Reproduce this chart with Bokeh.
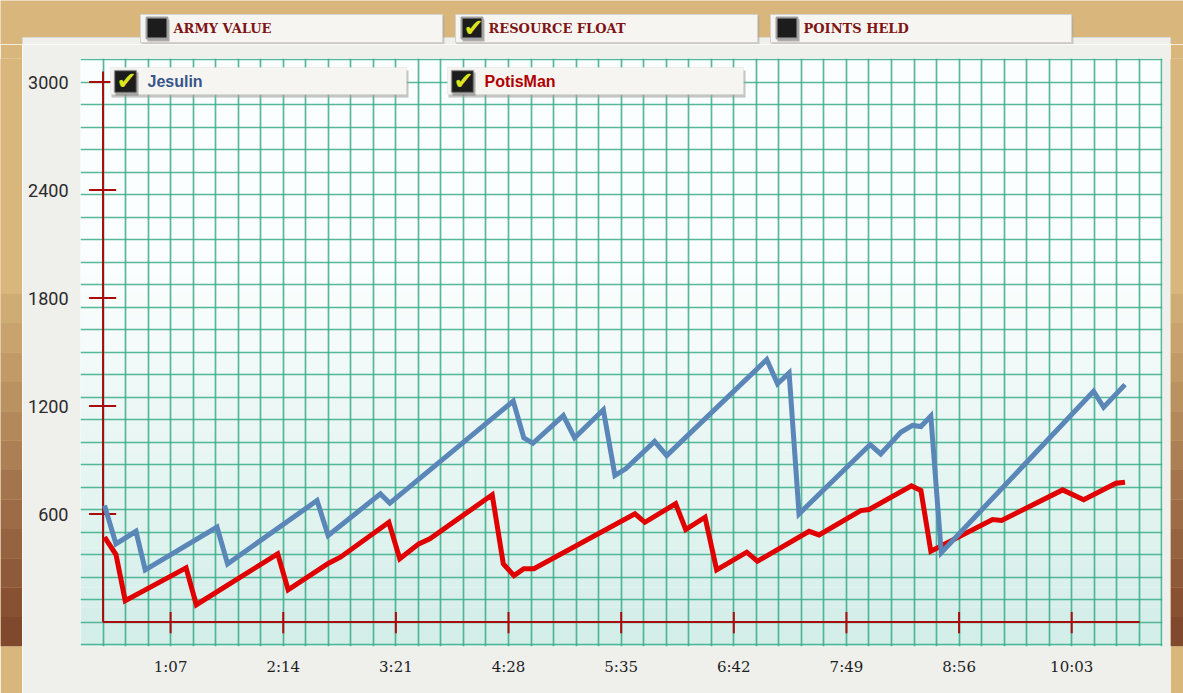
from bokeh.plotting import figure
from bokeh.layouts import column, row
from bokeh.models import (FixedTicker, SingleIntervalTicker, BoxAnnotation, Label, Range1d)
from bokeh.embed import file_html
from bokeh.resources import INLINE

# ---------------- data ----------------
series_names = ["Jesulin", "PotisMan"]

jesulin_t = [27.7, 34.5, 46.4, 51.9, 94.6, 100.9, 154.1, 160.7, 191.8, 197.4,
             270.8, 277.1, 282.5, 300.6, 307.3, 324.4, 331.3, 337.7, 354.9, 362.1,
             421.6, 428.0, 434.9, 440.8, 483.1, 489.4, 501.3, 508.3, 513.3, 519.2,
             525.4, 616.0, 622.0, 634.7]
jesulin_v = [647, 434, 504, 290, 527, 323, 675, 481, 712, 660,
             1227, 1023, 993, 1147, 1023, 1179, 814, 851, 1003, 925,
             1458, 1323, 1384, 601, 986, 934, 1054, 1092, 1086, 1144,
             385, 1282, 1193, 1319]

potisman_t = [27.7, 34.5, 40.0, 76.2, 82.3, 130.7, 136.9, 161.0, 168.0, 196.8,
              203.3, 214.6, 221.2, 258.3, 264.9, 271.2, 277.1, 283.1, 343.2, 349.1,
              367.4, 373.4, 384.9, 391.8, 409.7, 416.1, 446.8, 452.7, 477.5, 482.5,
              507.7, 513.3, 519.2, 555.9, 561.3, 597.6, 610.1, 629.3, 634.7]
potisman_v = [471, 375, 119, 301, 96, 379, 179, 327, 360, 554,
              351, 434, 462, 707, 323, 258, 296, 296, 601, 554,
              657, 514, 582, 290, 388, 338, 504, 484, 619, 625,
              756, 731, 393, 569, 564, 734, 679, 771, 777]

x_tick_seconds = [67, 134, 201, 268, 335, 402, 469, 536, 603]
x_tick_labels = ["1:07", "2:14", "3:21", "4:28", "5:35", "6:42", "7:49", "8:56", "10:03"]
y_ticks = [600, 1200, 1800, 2400, 3000]

toggle_labels = ["ARMY VALUE", "RESOURCE FLOAT", "POINTS HELD"]
toggle_checked = [False, True, False]

axis_start = 26.8
axis_end = 643.4
axis_top = 3058

# ---------------- colours ----------------
BLUE = "#5A86B8"
RED = "#E00000"
AXRED = "#A80C0C"
TAN = "#D8B67C"
PAPER = "#EFEFEC"
BAR = "#F6F5F2"
CHECK = "#DCE51E"

TOP_H = 44
FULL_W = 1183
LEFT_W, RIGHT_W = 22, 13
MAIN_W = FULL_W - LEFT_W - RIGHT_W
MAIN_H = 693 - TOP_H

# ---------------- top strip with the toggles ----------------
top = figure(width=FULL_W, height=TOP_H, x_range=Range1d(0, FULL_W), y_range=Range1d(TOP_H, 0),
             output_backend="svg", toolbar_location=None, x_axis_type=None, y_axis_type=None,
             min_border=0, min_border_left=0, min_border_right=0, min_border_top=0,
             min_border_bottom=0)
top.grid.visible = False
top.outline_line_color = None
top.background_fill_color = TAN
top.border_fill_color = TAN
top.quad(left=[LEFT_W], right=[FULL_W - RIGHT_W], top=[37], bottom=[TOP_H],
         fill_color=PAPER, line_color="#D9D9D5", line_width=1)

top_bars = [(140, 442), (455, 757), (770, 1071)]
for (l, r), lab, chk in zip(top_bars, toggle_labels, toggle_checked):
    top.quad(left=[l + 1], right=[r + 2], top=[16], bottom=[TOP_H],
             fill_color="#A8A6A0", fill_alpha=0.55, line_color=None)
    top.quad(left=[l], right=[r], top=[14], bottom=[42],
             fill_color=BAR, line_color="#D4D2CC", line_width=1)
    bl = l + 6
    top.quad(left=[bl + 1], right=[bl + 23], top=[19], bottom=[41],
             fill_color="#666666", fill_alpha=0.5, line_color=None)
    top.quad(left=[bl], right=[bl + 21], top=[17], bottom=[38],
             fill_color="#1C1C1C", line_color="#A0A0A0", line_width=2)
    if chk:
        top.add_layout(Label(x=bl + 12, y=27, text="\u2714", text_color=CHECK,
                             text_font="DejaVu Sans", text_font_size="24px",
                             text_font_style="bold", text_align="center",
                             text_baseline="middle"))
    top.add_layout(Label(x=l + 33, y=28, text=lab, text_color="#7E1414",
                         text_font="DejaVu Serif", text_font_size="13px",
                         text_font_style="bold", text_baseline="middle"))


# ---------------- side strips ----------------
def strip(w):
    s = figure(width=w, height=MAIN_H, x_range=Range1d(0, 1), y_range=Range1d(0, 20),
               output_backend="svg", toolbar_location=None, x_axis_type=None,
               y_axis_type=None, min_border=0, min_border_left=0, min_border_right=0,
               min_border_top=0, min_border_bottom=0)
    s.grid.visible = False
    s.outline_line_color = None
    s.background_fill_color = TAN
    s.border_fill_color = TAN
    c_dark = (128, 72, 44)
    c_light = (216, 182, 124)
    for i in range(20):
        g = min(1.0, i / 12)
        col = "#%02x%02x%02x" % tuple(int(a + (b - a) * g) for a, b in zip(c_dark, c_light))
        s.quad(left=[0], right=[1], bottom=[i], top=[i + 1], fill_color=col, line_color=None)
    return s


left = strip(LEFT_W)
right = strip(RIGHT_W)

# ---------------- main chart ----------------
FL, FR, FT, FB = 58, 8, 14, 47
FH = MAIN_H - FT - FB
XR = (13.4, 657.0)
YR = (-136.0, 3130.6)

p = figure(width=MAIN_W, height=MAIN_H, x_range=Range1d(*XR), y_range=Range1d(*YR),
           output_backend="svg", toolbar_location=None,
           min_border_left=FL, min_border_right=FR,
           min_border_top=FT, min_border_bottom=FB)
p.border_fill_color = PAPER
p.background_fill_color = "#F4FBFA"
p.outline_line_color = None

# soft gradient of the graph paper
nb = 30
span = YR[1] - YR[0]
for i in range(nb):
    f = i / (nb - 1)
    c0 = (212, 238, 233)
    c1 = (251, 254, 254)
    g = min(1.0, f * 1.6)
    col = "#%02x%02x%02x" % tuple(int(a + (b - a) * g) for a, b in zip(c0, c1))
    p.quad(left=XR[0], right=XR[1], bottom=YR[0] + span * i / nb,
           top=YR[0] + span * (i + 1) / nb, fill_color=col, line_color=None,
           level="image")

# grid
p.xgrid.ticker = SingleIntervalTicker(interval=13.4)
p.ygrid.ticker = SingleIntervalTicker(interval=125)
for g in (p.xgrid, p.ygrid):
    g.grid_line_color = "#3AAB88"
    g.grid_line_width = 1.7
    g.grid_line_alpha = 0.85

# axes (labels only)
p.xaxis.ticker = FixedTicker(ticks=x_tick_seconds)
p.xaxis.major_label_overrides = {t: s for t, s in zip(x_tick_seconds, x_tick_labels)}
p.yaxis.ticker = FixedTicker(ticks=y_ticks)
for ax in (p.xaxis, p.yaxis):
    ax.axis_line_color = None
    ax.major_tick_line_color = None
    ax.minor_tick_line_color = None
p.xaxis.major_label_text_font = "DejaVu Serif"
p.xaxis.major_label_text_font_size = "15px"
p.xaxis.major_label_text_color = "#1E1E1E"
p.xaxis.major_label_standoff = 5
p.yaxis.major_label_text_font = "Roboto"
p.yaxis.major_label_text_font_size = "18px"
p.yaxis.major_label_text_color = "#2A2A2A"
p.yaxis.major_label_standoff = 6

# red hand-drawn axes
p.segment(x0=[axis_start, axis_start], y0=[0, 0], x1=[axis_end, axis_start],
          y1=[0, axis_top], line_color=AXRED, line_width=2)
p.segment(x0=[axis_start - 8.3] * len(y_ticks), y0=y_ticks,
          x1=[axis_start + 7.8] * len(y_ticks), y1=y_ticks,
          line_color=AXRED, line_width=2)
p.segment(x0=x_tick_seconds, y0=[55] * len(x_tick_seconds),
          x1=x_tick_seconds, y1=[-62] * len(x_tick_seconds),
          line_color=AXRED, line_width=2)

# series
p.line(potisman_t, potisman_v, line_color=RED, line_width=5, line_join="miter")
p.line(jesulin_t, jesulin_v, line_color=BLUE, line_width=5, line_join="miter")


# legend bars, placed in screen units inside the frame (image coordinates)
def sx(ix):
    return ix - (LEFT_W + FL)


def sy(iy):
    return (TOP_H + FT + FH) - iy


def sbox(l, r, t, b, **kw):
    box = BoxAnnotation(left=sx(l), right=sx(r), top=sy(t), bottom=sy(b),
                        left_units="screen", right_units="screen",
                        top_units="screen", bottom_units="screen", **kw)
    p.add_layout(box)


leg_bars = [(110, 406), (447, 743)]
leg_colors = ["#36568A", "#B00000"]
for (l, r), name, col in zip(leg_bars, series_names, leg_colors):
    sbox(l + 1, r + 2, 70, 97, fill_color="#9E9E9A", fill_alpha=0.6, line_color=None)
    sbox(l, r, 67, 94, fill_color=BAR, fill_alpha=1, line_color="#D4D2CC",
         line_width=1)
    bl = l + 4
    sbox(bl + 1, bl + 24, 72, 95, fill_color="#666666", fill_alpha=0.5, line_color=None)
    sbox(bl, bl + 22, 70, 92, fill_color="#1C1C1C", fill_alpha=1,
         line_color="#A0A0A0", line_width=2)
    p.add_layout(Label(x=sx(bl + 12), y=sy(80), x_units="screen", y_units="screen",
                       text="\u2714", text_color=CHECK, text_font="DejaVu Sans",
                       text_font_size="24px", text_font_style="bold",
                       text_align="center", text_baseline="middle"))
    p.add_layout(Label(x=sx(l + 37), y=sy(81), x_units="screen", y_units="screen",
                       text=name, text_color=col, text_font="Liberation Sans",
                       text_font_size="16px", text_font_style="bold",
                       text_baseline="middle"))

layout = column(top, row(left, p, right, spacing=0), spacing=0)
open("out.html", "w").write(file_html(layout, INLINE))
